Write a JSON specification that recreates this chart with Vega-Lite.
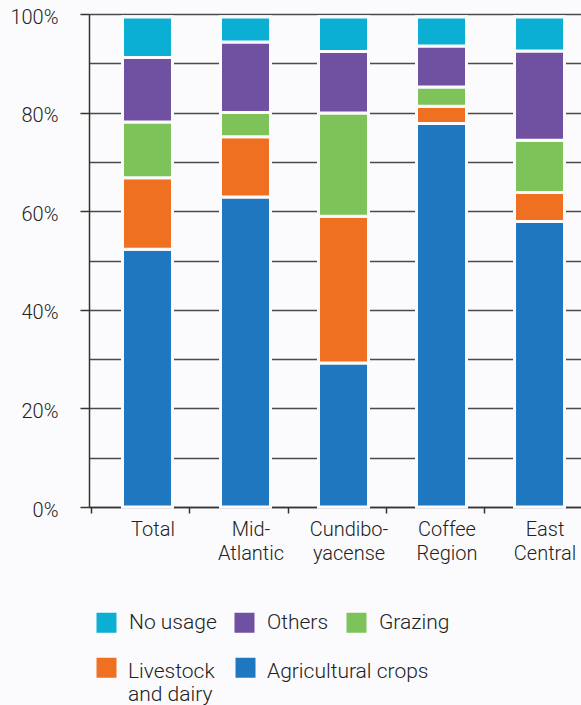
{
  "$schema": "https://vega.github.io/schema/vega-lite/v6.json",
  "autosize": {"type": "none"},
  "padding": {"left": 89, "top": 14, "right": 0, "bottom": 198},
  "width": 492,
  "height": 493,
  "background": "#fbfbfd",
  "data": {
    "values": [
      {"region": "Total", "use": "Agricultural crops", "share": 52.3},
      {"region": "Total", "use": "Livestock and dairy", "share": 14.5},
      {"region": "Total", "use": "Grazing", "share": 11.3},
      {"region": "Total", "use": "Others", "share": 13.1},
      {"region": "Total", "use": "No usage", "share": 8.2},
      {"region": "Mid-Atlantic", "use": "Agricultural crops", "share": 62.9},
      {"region": "Mid-Atlantic", "use": "Livestock and dairy", "share": 12.2},
      {"region": "Mid-Atlantic", "use": "Grazing", "share": 4.9},
      {"region": "Mid-Atlantic", "use": "Others", "share": 14.3},
      {"region": "Mid-Atlantic", "use": "No usage", "share": 5.1},
      {"region": "Cundiboyacense", "use": "Agricultural crops", "share": 29.2},
      {"region": "Cundiboyacense", "use": "Livestock and dairy", "share": 29.8},
      {"region": "Cundiboyacense", "use": "Grazing", "share": 20.9},
      {"region": "Cundiboyacense", "use": "Others", "share": 12.5},
      {"region": "Cundiboyacense", "use": "No usage", "share": 7.0},
      {"region": "Coffee Region", "use": "Agricultural crops", "share": 77.8},
      {"region": "Coffee Region", "use": "Livestock and dairy", "share": 3.5},
      {"region": "Coffee Region", "use": "Grazing", "share": 3.9},
      {"region": "Coffee Region", "use": "Others", "share": 8.3},
      {"region": "Coffee Region", "use": "No usage", "share": 5.9},
      {"region": "East Central", "use": "Agricultural crops", "share": 57.9},
      {"region": "East Central", "use": "Livestock and dairy", "share": 5.9},
      {"region": "East Central", "use": "Grazing", "share": 10.6},
      {"region": "East Central", "use": "Others", "share": 18.1},
      {"region": "East Central", "use": "No usage", "share": 6.9}
    ]
  },
  "transform": [
    {"calculate": "indexof(['Agricultural crops', 'Livestock and dairy', 'Grazing', 'Others', 'No usage'], datum.use)", "as": "stackOrder"}
  ],
  "encoding": {
    "x": {
      "field": "region",
      "type": "nominal",
      "sort": ["Total", "Mid-Atlantic", "Cundiboyacense", "Coffee Region", "East Central"],
      "scale": {"paddingInner": 0.49, "paddingOuter": 0.255, "align": 0.67},
      "axis": {
        "title": null,
        "labelAngle": 0,
        "labelAlign": "center",
        "bandPosition": 0,
        "tickOffset": -31,
        "labelOffset": 36,
        "tickSize": 6,
        "tickWidth": 1.5,
        "tickColor": "#333",
        "domainColor": "#333",
        "domainWidth": 1.5,
        "labelPadding": 6,
        "labelBaseline": "top",
        "labelFont": "Roboto",
        "labelFontSize": 20,
        "labelFontWeight": 300,
        "labelColor": "#222",
        "labelLineHeight": 24,
        "labelOverlap": false,
        "labelBound": false,
        "labelLimit": 200,
        "grid": false,
        "labelExpr": "datum.value == 'Mid-Atlantic' ? ['Mid-', 'Atlantic'] : datum.value == 'Cundiboyacense' ? ['Cundibo-', 'yacense'] : split(datum.value, ' ')"
      }
    },
    "y": {
      "field": "share",
      "type": "quantitative",
      "stack": "zero",
      "scale": {"domain": [0, 100], "nice": false},
      "axis": {
        "title": null,
        "values": [0, 10, 20, 30, 40, 50, 60, 70, 80, 90, 100],
        "labelExpr": "datum.value % 20 == 0 ? datum.value + '%' : ''",
        "tickOpacity": {"condition": {"test": "datum.value % 20 != 0", "value": 0}, "value": 1},
        "tickSize": 9,
        "tickWidth": 1.5,
        "tickColor": "#333",
        "domainColor": "#333",
        "domainWidth": 1.5,
        "grid": true,
        "gridColor": "#4a4a4a",
        "gridWidth": 1.5,
        "labelPadding": 22,
        "labelOffset": 3,
        "labelFont": "Roboto",
        "labelFontSize": 20,
        "labelFontWeight": 300,
        "labelColor": "#222"
      }
    },
    "order": {"field": "stackOrder", "type": "quantitative", "sort": "ascending"}
  },
  "layer": [
    {
      "mark": {"type": "bar", "stroke": "#fbfbfd", "strokeWidth": 3},
      "encoding": {
        "color": {
          "field": "use",
          "type": "nominal",
          "scale": {
            "domain": ["No usage", "Others", "Grazing", "Livestock and dairy", "Agricultural crops"],
            "range": ["#0aafd3", "#7050a0", "#7dc35a", "#f07022", "#1f78bf"]
          },
          "legend": {
            "values": ["No usage", "Others", "Grazing"],
            "orient": "none",
            "legendX": 7,
            "legendY": 598,
            "direction": "horizontal",
            "columns": 3,
            "title": null,
            "padding": 0,
            "symbolType": "square",
            "symbolSize": 400,
            "symbolStrokeWidth": 0,
            "symbolOpacity": 1,
            "labelFont": "Roboto",
            "labelFontSize": 21,
            "labelFontWeight": 300,
            "labelColor": "#222",
            "labelOffset": 12,
            "labelLimit": 300,
            "columnPadding": 17,
            "labelBaseline": "middle"
          }
        }
      }
    },
    {
      "mark": {"type": "bar", "stroke": "#fbfbfd", "strokeWidth": 3},
      "encoding": {
        "color": {
          "field": "use",
          "type": "nominal",
          "scale": {
            "domain": ["No usage", "Others", "Grazing", "Livestock and dairy", "Agricultural crops"],
            "range": ["#0aafd3", "#7050a0", "#7dc35a", "#f07022", "#1f78bf"]
          },
          "legend": {
            "values": ["Livestock and dairy", "Agricultural crops"],
            "orient": "none",
            "legendX": 7,
            "legendY": 643,
            "direction": "horizontal",
            "columns": 2,
            "title": null,
            "padding": 0,
            "symbolType": "square",
            "symbolSize": 400,
            "symbolStrokeWidth": 0,
            "symbolOpacity": 1,
            "labelFont": "Roboto",
            "labelFontSize": 21,
            "labelFontWeight": 300,
            "labelColor": "#222",
            "labelOffset": 11,
            "labelLimit": 300,
            "labelLineHeight": 18,
            "columnPadding": 20,
            "labelBaseline": "top",
            "labelExpr": "datum.label == 'Livestock and dairy' ? ['Livestock', 'and dairy'] : [datum.label, '']",
            "encoding": {"labels": {"dy": {"value": -7}}}
          }
        }
      }
    }
  ],
  "resolve": {"scale": {"color": "independent"}, "legend": {"color": "independent"}}
}
